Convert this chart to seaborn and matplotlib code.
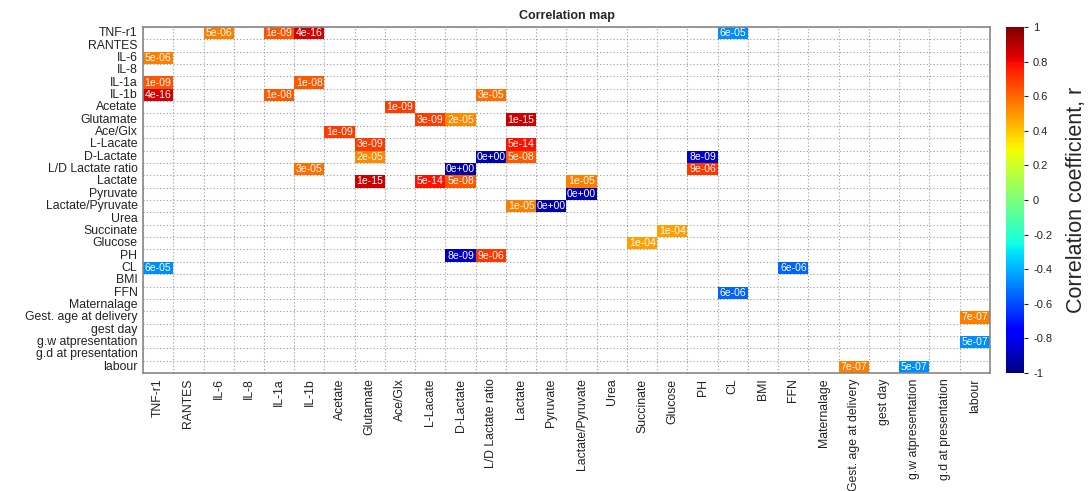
import numpy as np
import pandas as pd
import matplotlib
matplotlib.use("Agg")
import matplotlib.pyplot as plt
import seaborn as sns

labels = ["TNF-r1", "RANTES", "IL-6", "IL-8", "IL-1a", "IL-1b", "Acetate", "Glutamate",
          "Ace/Glx", "L-Lacate", "D-Lactate", "L/D Lactate ratio", "Lactate", "Pyruvate",
          "Lactate/Pyruvate", "Urea", "Succinate", "Glucose", "PH", "CL", "BMI", "FFN",
          "Maternalage", "Gest. age at delivery", "gest day", "g.w atpresentation",
          "g.d at presentation", "labour"]

# significant cells: row index, column index, correlation r, p-value label
sig_rows = [0, 0, 0, 0, 2, 4, 4, 5, 5, 5, 6, 7, 7, 7, 8, 9, 9, 10, 10, 10, 10,
            11, 11, 11, 12, 12, 12, 12, 13, 14, 14, 16, 17, 18, 18, 19, 19, 21,
            23, 25, 27, 27]
sig_cols = [2, 4, 5, 19, 0, 0, 5, 0, 4, 11, 8, 9, 10, 12, 6, 7, 12, 7, 11, 12, 18,
            5, 10, 18, 7, 9, 10, 14, 14, 12, 13, 17, 16, 10, 11, 0, 21, 19,
            27, 27, 23, 25]
sig_r = [0.55, 0.64, 0.85, -0.47, 0.55, 0.64, 0.63, 0.85, 0.63, 0.58, 0.69, 0.69,
         0.53, 0.86, 0.69, 0.69, 0.78, 0.53, -0.92, 0.63, -0.87,
         0.58, -0.92, 0.70, 0.86, 0.78, 0.63, 0.55, -0.92, 0.55, -0.92, 0.48, 0.48,
         -0.87, 0.70, -0.47, -0.55, -0.55, 0.55, -0.47, 0.55, -0.47]
sig_p = ["5e-06", "1e-09", "4e-16", "6e-05", "5e-06", "1e-09", "1e-08", "4e-16",
         "1e-08", "3e-05", "1e-09", "3e-09", "2e-05", "1e-15", "1e-09", "3e-09",
         "5e-14", "2e-05", "0e+00", "5e-08", "8e-09", "3e-05", "0e+00", "9e-06",
         "1e-15", "5e-14", "5e-08", "1e-05", "0e+00", "1e-05", "0e+00", "1e-04",
         "1e-04", "8e-09", "9e-06", "6e-05", "6e-06", "6e-06", "7e-07", "5e-07",
         "7e-07", "5e-07"]

cbar_ticks = [-1, -0.8, -0.6, -0.4, -0.2, 0, 0.2, 0.4, 0.6, 0.8, 1]
cbar_ticklabels = ["-1", "-0.8", "-0.6", "-0.4", "-0.2", "0", "0.2", "0.4", "0.6", "0.8", "1"]

n = len(labels)
mat = np.full((n, n), np.nan)
ann = np.full((n, n), "", dtype=object)
for r, c, v, p in zip(sig_rows, sig_cols, sig_r, sig_p):
    mat[r, c] = v
    ann[r, c] = p
df = pd.DataFrame(mat, index=labels, columns=labels)

sns.set_style("white")
plt.rcParams["font.family"] = ["Liberation Sans", "DejaVu Sans"]

W, H = 1091, 491
fig = plt.figure(figsize=(W / 100, H / 100), dpi=100)
ax = fig.add_axes([143 / W, 1 - 373 / H, (990 - 143) / W, 346 / H])
cax = fig.add_axes([1006 / W, 1 - 373 / H, 18 / W, 346 / H])

sns.heatmap(df, mask=np.isnan(mat), cmap="jet", vmin=-1, vmax=1,
            annot=ann, fmt="", annot_kws={"color": "white", "fontsize": 7.5},
            xticklabels=labels, yticklabels=labels, ax=ax, cbar_ax=cax,
            linewidths=0)

ax.set_axisbelow(True)
ax.set_xticks(np.arange(n + 1), minor=True)
ax.set_yticks(np.arange(n + 1), minor=True)
ax.grid(which="minor", linestyle=(0, (1, 2)), color="#999999", linewidth=0.8)
ax.grid(which="major", visible=False)
ax.tick_params(which="major", length=0, labelsize=8.8, pad=4, colors="#222222")
ax.tick_params(which="minor", length=2, direction="in", color="#999999")
ax.set_xticklabels(labels, rotation=90)
ax.set_yticklabels(labels, rotation=0)
ax.set_xlabel("")
ax.set_ylabel("")
for s in ax.spines.values():
    s.set_visible(True)
    s.set_color("#888888")
    s.set_linewidth(1.2)
ax.set_title("Correlation map", fontsize=9, fontweight="bold", pad=6)

cb = ax.collections[0].colorbar
cb.set_ticks(cbar_ticks)
cb.set_ticklabels(cbar_ticklabels)
cb.ax.tick_params(labelsize=8, length=3, colors="#222222")
cb.outline.set_edgecolor("#555555")
cb.set_label("Correlation coefficient, r", fontsize=15.5, labelpad=10)

fig.savefig("out.png", dpi=100)
